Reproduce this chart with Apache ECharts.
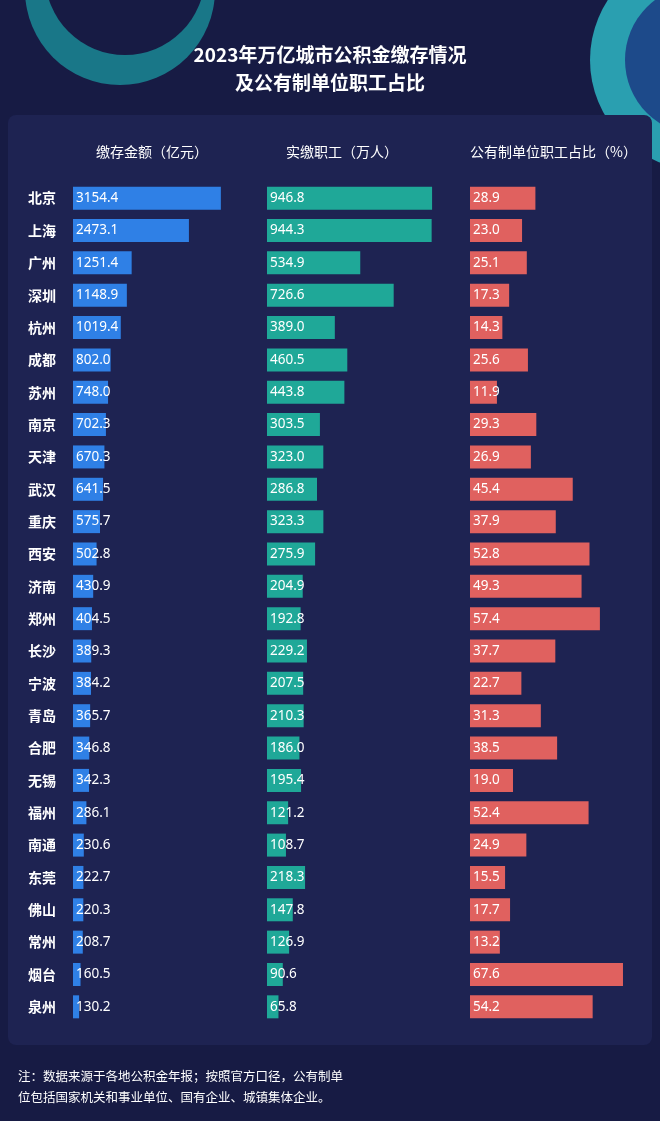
<!DOCTYPE html>
<html><head><meta charset="utf-8">
<script src="https://cdn.jsdelivr.net/npm/echarts@6/dist/echarts.min.js"></script>
<style>html,body{margin:0;padding:0;background:#171b44}#c{width:660px;height:1121px}</style>
</head><body><div id="c"></div>
<script>
const cities=['北京','上海','广州','深圳','杭州','成都','苏州','南京','天津','武汉','重庆','西安','济南','郑州','长沙','宁波','青岛','合肥','无锡','福州','南通','东莞','佛山','常州','烟台','泉州'];
const deposit=[3154.4,2473.1,1251.4,1148.9,1019.4,802.0,748.0,702.3,670.3,641.5,575.7,502.8,430.9,404.5,389.3,384.2,365.7,346.8,342.3,286.1,230.6,222.7,220.3,208.7,160.5,130.2];
const workers=[946.8,944.3,534.9,726.6,389.0,460.5,443.8,303.5,323.0,286.8,323.3,275.9,204.9,192.8,229.2,207.5,210.3,186.0,195.4,121.2,108.7,218.3,147.8,126.9,90.6,65.8];
const share=[28.9,23.0,25.1,17.3,14.3,25.6,11.9,29.3,26.9,45.4,37.9,52.8,49.3,57.4,37.7,22.7,31.3,38.5,19.0,52.4,24.9,15.5,17.7,13.2,67.6,54.2];
const headers=['缴存金额（亿元）','实缴职工（万人）','公有制单位职工占比（%）'];
const colors=['#2f80e6','#1fa898','#e0615f'];
const ch=echarts.init(document.getElementById('c'));
const gTop=182,gH=841;
const grids=[{left:73,width:150,max:3200},{left:267,width:170,max:975},{left:470,width:160,max:70.7}];
const datas=[deposit,workers,share];
ch.setOption({
 backgroundColor:'#171b44',
 title:{text:'2023年万亿城市公积金缴存情况\n及公有制单位职工占比',left:'center',top:36,
  textStyle:{color:'#fff',fontSize:19,fontWeight:'bold',lineHeight:28,fontFamily:'Noto Sans CJK SC'}},
 graphic:[
  {type:'circle',shape:{cx:120,cy:-10,r:95},style:{fill:'#1a8f9a',opacity:0.8},z:-10},
  {type:'circle',shape:{cx:125,cy:-25,r:80},style:{fill:'#171b44'},z:-9},
  {type:'circle',shape:{cx:700,cy:60,r:110},style:{fill:'#2a9fb0'},z:-10},
  {type:'circle',shape:{cx:700,cy:60,r:75},style:{fill:'#1d4a8a'},z:-9},
  {type:'rect',shape:{x:8,y:115,width:644,height:930,r:8},style:{fill:'#1e2352'},z:-5},
  {type:'text',left:96,top:145,style:{text:headers[0],fill:'#fff',fontSize:14,fontFamily:'Noto Sans CJK SC'}},
  {type:'text',left:286,top:145,style:{text:headers[1],fill:'#fff',fontSize:14,fontFamily:'Noto Sans CJK SC'}},
  {type:'text',left:470,top:145,style:{text:headers[2],fill:'#fff',fontSize:14,fontFamily:'Noto Sans CJK SC'}},
  {type:'text',left:18,top:1066,style:{text:'注：数据来源于各地公积金年报；按照官方口径，公有制单\n位包括国家机关和事业单位、国有企业、城镇集体企业。',fill:'#fff',fontSize:12.5,lineHeight:21,fontFamily:'Noto Sans CJK SC'}}
 ],
 grid:grids.map(g=>({left:g.left,width:g.width,top:gTop,height:gH})),
 xAxis:grids.map((g,i)=>({type:'value',gridIndex:i,min:0,max:g.max,show:false})),
 yAxis:grids.map((g,i)=>({type:'category',gridIndex:i,data:cities,inverse:true,
   axisLine:{show:false},axisTick:{show:false},
   axisLabel:{show:i===0,color:'#fff',fontSize:14,fontWeight:'bold',margin:17,fontFamily:'Noto Sans CJK SC'}})),
 series:datas.map((d,i)=>({type:'bar',xAxisIndex:i,yAxisIndex:i,data:d,barWidth:23,
   itemStyle:{color:colors[i]},
   label:{show:true,position:'insideLeft',offset:[-2,0],color:'#fff',fontSize:13.5,
     formatter:p=>p.value.toFixed(1),fontFamily:'Noto Sans'}}))
});
</script></body></html>
